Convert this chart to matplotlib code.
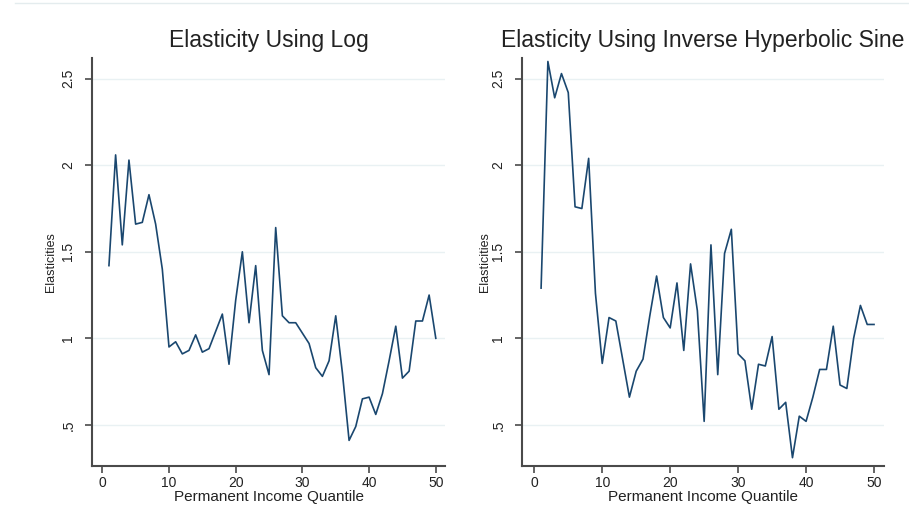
import matplotlib
matplotlib.use("Agg")
import matplotlib.pyplot as plt
from matplotlib.lines import Line2D

plt.rcParams['font.family'] = ['Liberation Sans', 'DejaVu Sans']

# Permanent income quantiles and estimated elasticities
quantile = list(range(1, 51))

elasticity_log = [
    1.42, 2.06, 1.54, 2.03, 1.66, 1.67, 1.83, 1.66, 1.40, 0.95,
    0.98, 0.91, 0.93, 1.02, 0.92, 0.94, 1.04, 1.14, 0.85, 1.22,
    1.50, 1.09, 1.42, 0.93, 0.79, 1.64, 1.13, 1.09, 1.09, 1.03,
    0.97, 0.83, 0.78, 0.87, 1.13, 0.80, 0.41, 0.49, 0.65, 0.66,
    0.56, 0.68, 0.87, 1.07, 0.77, 0.81, 1.10, 1.10, 1.25, 1.00,
]

elasticity_ihs = [
    1.29, 2.60, 2.39, 2.53, 2.42, 1.76, 1.75, 2.04, 1.26, 0.855,
    1.12, 1.10, 0.88, 0.66, 0.81, 0.88, 1.13, 1.36, 1.12, 1.06,
    1.32, 0.93, 1.43, 1.16, 0.52, 1.54, 0.79, 1.49, 1.63, 0.91,
    0.87, 0.59, 0.85, 0.84, 1.01, 0.59, 0.63, 0.31, 0.55, 0.52,
    0.66, 0.82, 0.82, 1.07, 0.73, 0.71, 1.00, 1.19, 1.08, 1.08,
]

titles = ["Elasticity Using Log", "Elasticity Using Inverse Hyperbolic Sine"]
x_ticks = [0, 10, 20, 30, 40, 50]
y_ticks = [0.5, 1.0, 1.5, 2.0, 2.5]
y_tick_labels = [".5", "1", "1.5", "2", "2.5"]
x_label = "Permanent Income Quantile"
y_label = "Elasticities"

W, H = 909, 531
fig = plt.figure(figsize=(W / 100, H / 100), dpi=100)
fig.patch.set_facecolor("white")

line_color = "#1a476f"
grid_color = "#e9f1f3"
axis_color = "#4a4a4a"
text_color = "#222222"

# panel boxes in pixel coordinates: left, right, top, bottom, xlim, ylabel x
panels = [
    dict(l=92, r=445, t=58, b=466, xlim=(-1.54, 51.38), ylab=51, data=elasticity_log),
    dict(l=522, r=884, t=58, b=466, xlim=(-1.81, 51.47), ylab=485, data=elasticity_ihs),
]

for p, title in zip(panels, titles):
    ax = fig.add_axes([p["l"] / W, 1 - p["b"] / H,
                       (p["r"] - p["l"]) / W, (p["b"] - p["t"]) / H])
    ax.plot(quantile, p["data"], color=line_color, lw=1.2)
    ax.set_xlim(*p["xlim"])
    ax.set_ylim(0.262, 2.62)
    ax.set_xticks(x_ticks)
    ax.set_yticks(y_ticks)
    ax.set_yticklabels(y_tick_labels, rotation=90, va="center")
    ax.tick_params(axis="both", direction="out", length=5, width=1.2,
                   color=axis_color, labelsize=10, labelcolor=text_color)
    ax.tick_params(axis="y", pad=7)
    ax.tick_params(axis="x", pad=2)
    for side in ("top", "right"):
        ax.spines[side].set_visible(False)
    for side in ("left", "bottom"):
        ax.spines[side].set_color(axis_color)
        ax.spines[side].set_linewidth(1.5)
    ax.grid(axis="y", color=grid_color, lw=1.0)
    ax.set_axisbelow(True)
    ax.set_xlabel(x_label, fontsize=11, color=text_color)
    ax.xaxis.set_label_coords(0.5, -(490 - p["b"]) / (p["b"] - p["t"]))
    ax.xaxis.label.set_va("top")
    ax.set_ylabel(y_label, fontsize=9, color=text_color)
    ax.yaxis.set_label_coords((p["ylab"] - p["l"]) / (p["r"] - p["l"]), 0.5)
    ax.yaxis.label.set_va("center")
    ax.set_title(title, fontsize=16.5, color=text_color, pad=8)

# faint rule along the top edge
fig.add_artist(Line2D([15 / W, 1.0], [1 - 2.5 / H] * 2, color="#e4ecee", lw=1.0))

fig.savefig("out.png", dpi=100, facecolor="white")
